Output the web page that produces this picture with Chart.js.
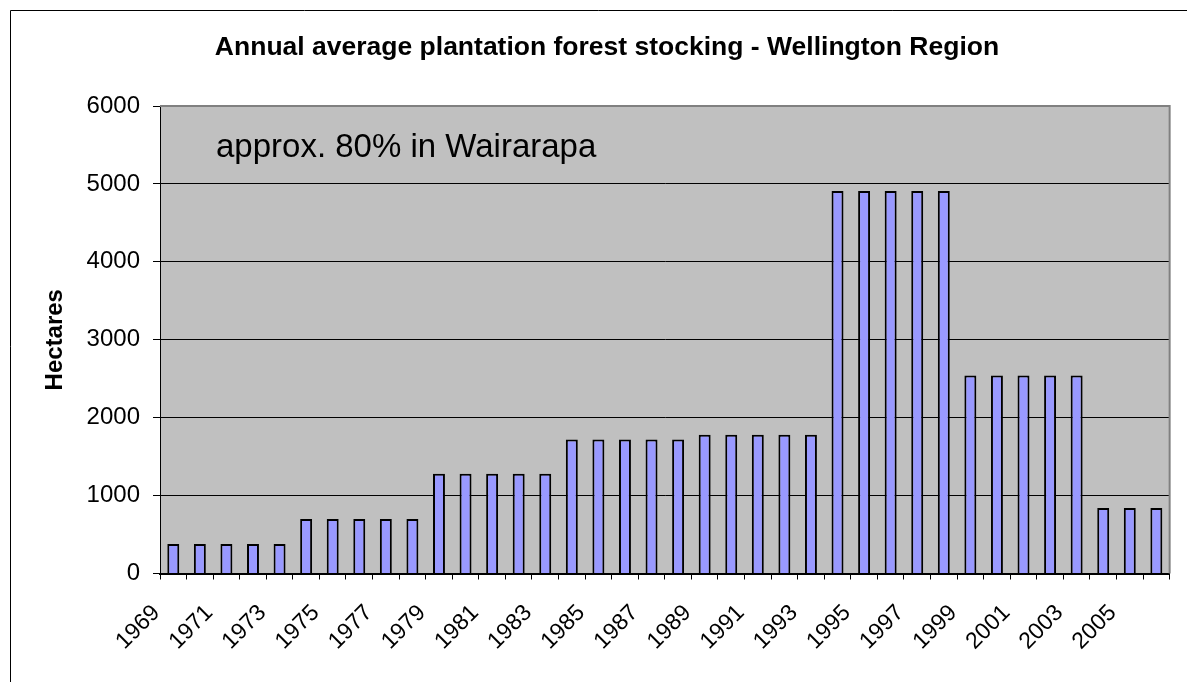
<!DOCTYPE html>
<html>
<head>
<meta charset="utf-8">
<script src="https://cdn.jsdelivr.net/npm/chart.js@4.4.0/dist/chart.umd.min.js"></script>
<style>
  html, body { margin: 0; padding: 0; background: #fff; }
  #wrap { width: 1196px; height: 682px; }
</style>
</head>
<body>
<div id="wrap"><canvas id="forestChart" width="1196" height="682"></canvas></div>
<script>
// Data
const years = [
  '1969', '1970', '1971', '1972', '1973', '1974', '1975', '1976', '1977', '1978',
  '1979', '1980', '1981', '1982', '1983', '1984', '1985', '1986', '1987', '1988',
  '1989', '1990', '1991', '1992', '1993', '1994', '1995', '1996', '1997', '1998',
  '1999', '2000', '2001', '2002', '2003', '2004', '2005', '2006'
];
const hectares = [
  380, 380, 380, 380, 380, 700, 700, 700, 700, 700,
  1280, 1280, 1280, 1280, 1280, 1720, 1720, 1720, 1720, 1720,
  1780, 1780, 1780, 1780, 1780, 4910, 4910, 4910, 4910, 4910,
  2540, 2540, 2540, 2540, 2540, 840, 840, 840
];
const yTicks = [0, 1000, 2000, 3000, 4000, 5000, 6000];

const chartTitle = 'Annual average plantation forest stocking - Wellington Region';
const noteText = 'approx. 80% in Wairarapa';
const yTitle = 'Hectares';

const FONT = "'Liberation Sans', Arial, sans-serif";
Chart.defaults.font.family = FONT;
Chart.defaults.color = '#000';

// Frame, grey plot background, title and note
const excelLook = {
  id: 'excelLook',
  beforeDraw(chart) {
    const { ctx, chartArea: a } = chart;
    ctx.save();
    ctx.fillStyle = '#fff';
    ctx.fillRect(0, 0, chart.width, chart.height);
    ctx.strokeStyle = '#000';
    ctx.lineWidth = 1;
    ctx.beginPath();
    ctx.moveTo(10.5, chart.height + 5);
    ctx.lineTo(10.5, 10.5);
    ctx.lineTo(1187, 10.5);
    ctx.stroke();
    ctx.fillStyle = '#c0c0c0';
    ctx.fillRect(a.left, a.top, a.right - a.left, a.bottom - a.top);
    ctx.restore();
  },
  afterDatasetsDraw(chart) {
    const { ctx, chartArea: a } = chart;
    ctx.save();
    ctx.strokeStyle = '#808080';
    ctx.lineWidth = 2;
    ctx.beginPath();
    ctx.moveTo(a.left, a.top);
    ctx.lineTo(a.right, a.top);
    ctx.lineTo(a.right, a.bottom);
    ctx.stroke();

    ctx.fillStyle = '#000';
    ctx.textAlign = 'center';
    ctx.textBaseline = 'alphabetic';
    ctx.font = 'bold 26.5px ' + FONT;
    ctx.fillText(chartTitle, 607, 55);

    ctx.textAlign = 'left';
    ctx.font = '33px ' + FONT;
    ctx.fillText(noteText, 216, 157);
    ctx.restore();
  }
};

new Chart(document.getElementById('forestChart'), {
  type: 'bar',
  data: {
    labels: years,
    datasets: [{
      label: 'Hectares',
      data: hectares,
      backgroundColor: '#9999ff',
      borderColor: '#000',
      borderWidth: 2,
      categoryPercentage: 1,
      barPercentage: 0.45
    }]
  },
  options: {
    responsive: false,
    animation: false,
    layout: { padding: { top: 106, right: 10, left: 0, bottom: 0 } },
    plugins: {
      legend: { display: false },
      tooltip: { enabled: false }
    },
    scales: {
      x: {
        offset: true,
        grid: {
          offset: true,
          drawOnChartArea: false,
          drawTicks: true,
          tickLength: 6,
          color: '#000'
        },
        border: { color: '#000', width: 2 },
        ticks: {
          autoSkip: false,
          maxRotation: 45,
          minRotation: 45,
          padding: 20,
          labelOffset: -17,
          font: { size: 23 },
          callback: (v, i) => (i % 2 === 0 ? years[i] : '')
        },
        afterFit: (s) => { s.height = 108.5; }
      },
      y: {
        min: 0,
        max: 6000,
        afterBuildTicks: (s) => { s.ticks = yTicks.map(v => ({ value: v })); },
        grid: { color: '#000', lineWidth: 1, tickLength: 7 },
        border: { color: '#000', width: 1 },
        ticks: { padding: 13, font: { size: 24 }, callback: (v) => String(v) },
        title: {
          display: true,
          text: yTitle,
          font: { size: 24, weight: 'bold' },
          padding: { top: 40.6, bottom: 0 }
        },
        afterFit: (s) => { s.width = 160; }
      }
    }
  },
  plugins: [excelLook]
});
</script>
</body>
</html>
